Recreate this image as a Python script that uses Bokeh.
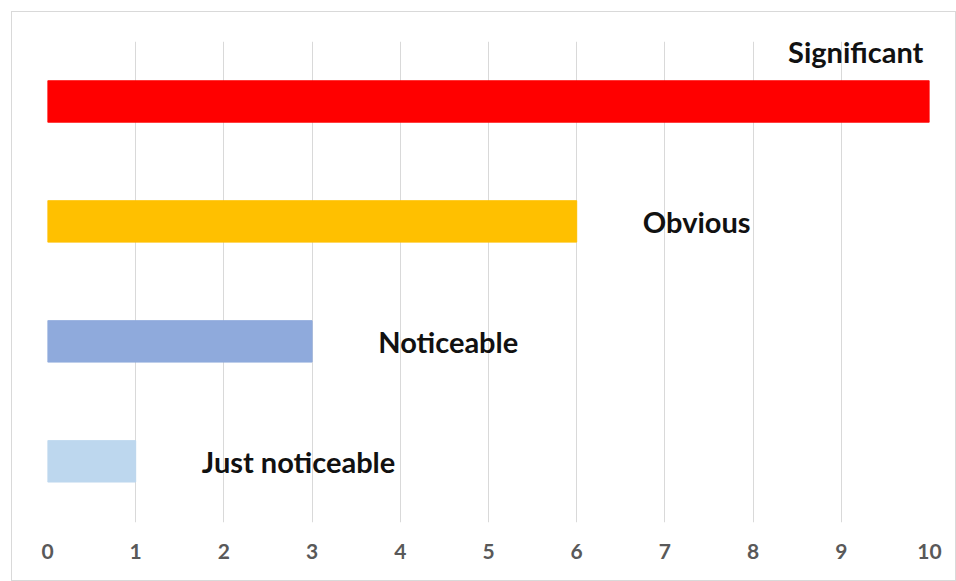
from bokeh.plotting import figure
from bokeh.models import Range1d, ColumnDataSource, FixedTicker
from bokeh.embed import file_html
from bokeh.resources import INLINE
from bokeh.core.properties import value

# data
categories = ["Just noticeable", "Noticeable", "Obvious", "Significant"]
values = [1, 3, 6, 10]
colors = ["#BDD7EE", "#8FAADC", "#FFC000", "#FF0000"]
x_ticks = [0, 1, 2, 3, 4, 5, 6, 7, 8, 9, 10]

ypos = list(range(1, len(categories) + 1))
XMAX = 10

p = figure(width=945, height=570, output_backend="svg", toolbar_location=None,
           x_range=Range1d(0, XMAX), y_range=Range1d(0.49, 4.5),
           min_border_left=35, min_border_right=28, min_border_top=29,
           min_border_bottom=60)
p.margin = (11, 0, 0, 11)
p.styles = {"border": "1px solid #D9D9D9", "box-sizing": "border-box"}
p.outline_line_color = None
p.background_fill_color = "white"
p.border_fill_color = "white"

src = ColumnDataSource(dict(y=ypos, right=values, color=colors))
p.hbar(y="y", left=0, right="right", height=0.345, color="color", source=src)

# labels
lx, ly, lt, la = [], [], [], []
for cat, v, y in zip(categories, values, ypos):
    if v + 3 > XMAX:
        lx.append(v - 0.07); ly.append(y + 0.42); la.append("right")
    else:
        lx.append(v + 0.75); ly.append(y); la.append("left")
    lt.append(cat)
lsrc = ColumnDataSource(dict(x=lx, y=ly, text=lt, align=la))
p.text(x="x", y="y", text="text", text_align="align", text_baseline="middle",
       source=lsrc, text_font=value("Lato"), text_font_style="bold",
       text_font_size="29px", text_color="#111111")

p.yaxis.visible = False
p.ygrid.grid_line_color = None
p.xgrid.grid_line_color = "#D9D9D9"
p.xgrid.grid_line_width = 1
p.xaxis.ticker = FixedTicker(ticks=x_ticks)
p.xaxis.axis_line_color = None
p.xaxis.major_tick_line_color = None
p.xaxis.minor_tick_line_color = None
p.xaxis.major_label_text_font = "Lato"
p.xaxis.major_label_text_font_style = "bold"
p.xaxis.major_label_text_font_size = "21px"
p.xaxis.major_label_text_color = "#595959"
p.xaxis.major_label_standoff = 15

open("out.html", "w").write(file_html(p, INLINE))
